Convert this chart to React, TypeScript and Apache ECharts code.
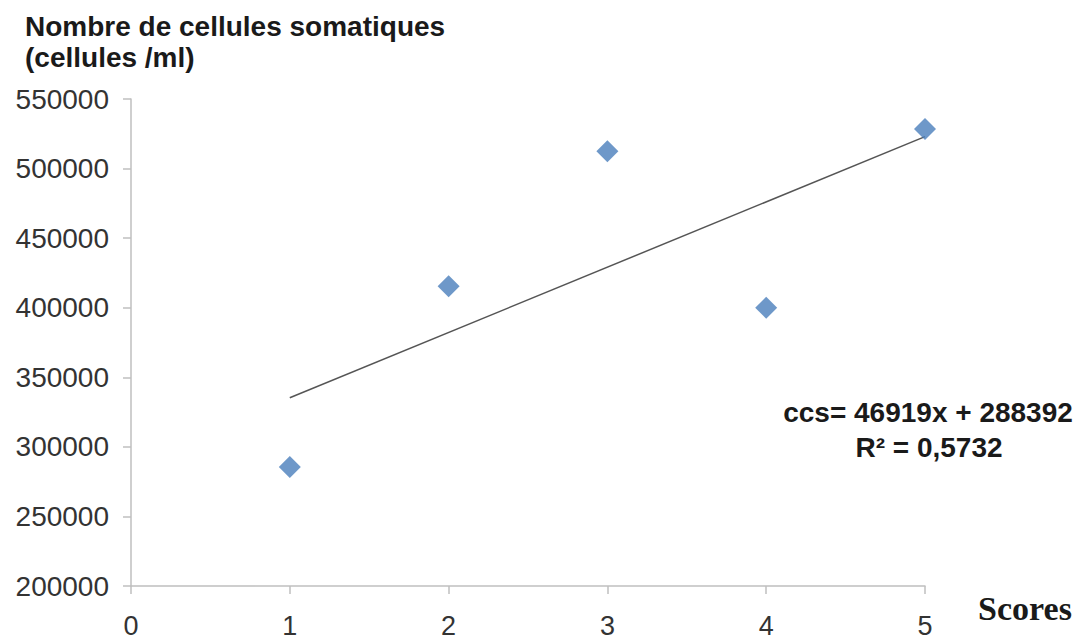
import React, { useEffect, useRef } from "react";
import * as echarts from "echarts";

const scores = [1, 2, 3, 4, 5];
const cellCounts = [285500, 415500, 512500, 400000, 528500];
const slope = 46919;
const intercept = 288392;
const trendX = [1, 5];
const yTicks = { min: 200000, max: 550000, interval: 50000 };
const xTicks = { min: 0, max: 5, interval: 1 };
const titleText = "Nombre de cellules somatiques\n(cellules /ml)";
const equationText = "ccs= 46919x + 288392";
const r2Text = "R² = 0,5732";
const xName = "Scores";

export default function App() {
  const ref = useRef<HTMLDivElement>(null);
  useEffect(() => {
    document.body.style.margin = "0";
    const chart = echarts.init(ref.current!, null, { renderer: "svg" });
    const points = scores.map((s, i) => [s, cellCounts[i]]);
    const trend = trendX.map((x) => [x, slope * x + intercept]);
    chart.setOption({
      animation: false,
      backgroundColor: "#ffffff",
      title: {
        text: titleText,
        left: 20,
        top: 6,
        textStyle: {
          fontFamily: "Liberation Sans",
          fontWeight: "bold",
          fontSize: 28,
          lineHeight: 31,
          color: "#1a1a1a",
        },
      },
      grid: { left: 131, right: 156, top: 99, bottom: 54, outerBoundsMode: "none", containLabel: false },
      xAxis: {
        type: "value",
        min: xTicks.min,
        max: xTicks.max,
        interval: xTicks.interval,
        axisLine: { show: true, lineStyle: { color: "#bfbfbf", width: 1.5 } },
        axisTick: { show: true, length: 8, lineStyle: { color: "#bfbfbf", width: 1.5 } },
        splitLine: { show: false },
        axisLabel: {
          margin: 26,
          fontFamily: "Liberation Sans",
          fontSize: 27,
          color: "#333333",
        },
      },
      yAxis: {
        type: "value",
        min: yTicks.min,
        max: yTicks.max,
        interval: yTicks.interval,
        axisLine: { show: true, lineStyle: { color: "#bfbfbf", width: 1.5 } },
        axisTick: { show: true, length: 8, lineStyle: { color: "#bfbfbf", width: 1.5 } },
        splitLine: { show: false },
        axisLabel: {
          margin: 22,
          fontFamily: "Liberation Sans",
          fontSize: 28,
          color: "#333333",
          formatter: (v: number) => String(v),
        },
      },
      series: [
        {
          type: "line",
          data: trend,
          symbol: "none",
          lineStyle: { color: "#555555", width: 1.5 },
          z: 2,
        },
        {
          type: "scatter",
          data: points,
          symbol: "diamond",
          symbolSize: 22,
          itemStyle: { color: "#4A7EBB" },
          z: 3,
        },
      ],
      graphic: [
        {
          type: "text",
          x: 928,
          y: 412,
          style: {
            text: equationText,
            align: "center",
            verticalAlign: "middle",
            fontFamily: "Liberation Sans",
            fontWeight: "bold",
            fontSize: 28,
            fill: "#1a1a1a",
          },
        },
        {
          type: "text",
          x: 929,
          y: 447,
          style: {
            text: r2Text,
            align: "center",
            verticalAlign: "middle",
            fontFamily: "Liberation Sans",
            fontWeight: "bold",
            fontSize: 28,
            fill: "#1a1a1a",
          },
        },
        {
          type: "text",
          x: 1025,
          y: 608,
          style: {
            text: xName,
            align: "center",
            verticalAlign: "middle",
            fontFamily: "Liberation Serif",
            fontWeight: "bold",
            fontSize: 34,
            fill: "#1a1a1a",
          },
        },
      ],
    });
    return () => chart.dispose();
  }, []);
  return <div ref={ref} style={{ width: 1081, height: 640 }} />;
}
